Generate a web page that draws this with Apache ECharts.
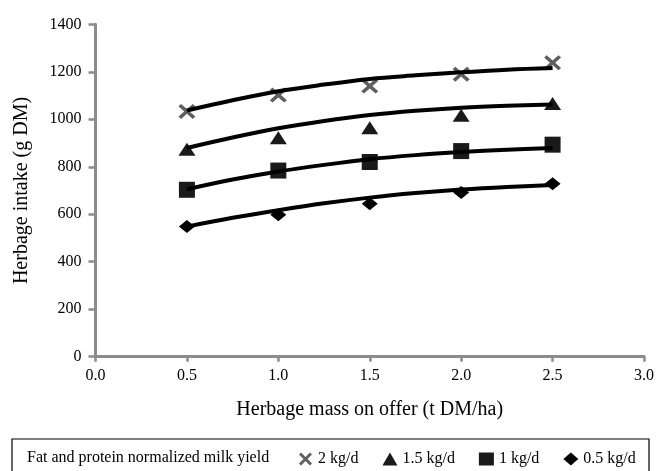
<!DOCTYPE html>
<html>
<head>
<meta charset="utf-8">
<script src="https://cdn.jsdelivr.net/npm/echarts@6/dist/echarts.min.js"></script>
<style>
html,body{margin:0;padding:0;background:#fff;}
#chart{width:657px;height:471px;}
</style>
</head>
<body>
<div id="chart"></div>
<script>
// Observed data
const massOffer = [0.5, 1.0, 1.5, 2.0, 2.5];
const intake2 = [1033, 1102, 1140, 1190, 1238];
const intake15 = [874, 922, 964, 1017, 1066];
const intake1 = [703, 784, 820, 866, 893];
const intake05 = [548, 598, 644, 692, 728];
// Fitted curves
const fitMass = [0.5, 0.75, 1.0, 1.25, 1.5, 1.75, 2.0, 2.25, 2.5];
const fit2 = [1037, 1080, 1118, 1146, 1170, 1185, 1198, 1209, 1216];
const fit15 = [879, 923, 962, 993, 1018, 1036, 1049, 1057, 1062];
const fit1 = [705, 746, 780, 808, 832, 849, 862, 872, 879];
const fit05 = [548, 585, 617, 646, 670, 689, 704, 715, 723];
const seriesNames = ['2 kg/d', '1.5 kg/d', '1 kg/d', '0.5 kg/d'];
const legendTitle = 'Fat and protein normalized milk yield';
const xTitle = 'Herbage mass on offer (t DM/ha)';
const yTitle = 'Herbage intake (g DM)';

const FONT = "'Liberation Serif', 'Times New Roman', serif";
const crossPath = 'path://M0,2.5 L2.5,0 L8,5.5 L13.5,0 L16,2.5 L10.5,8 L16,13.5 L13.5,16 L8,10.5 L2.5,16 L0,13.5 L5.5,8 Z';

function pairs(xs, ys) { return xs.map((x, i) => [x, ys[i]]); }

const obs = [intake2, intake15, intake1, intake05];
const fits = [fit2, fit15, fit1, fit05];
const symbols = [crossPath, 'triangle', 'rect', 'diamond'];
const sizes = [[17, 15], [17, 13], [16, 16], [16, 13]];
const colors = ['#5f5f5f', '#1a1a1a', '#1a1a1a', '#000000'];

const series = [];
fits.forEach((f) => {
  series.push({
    type: 'line',
    data: pairs(fitMass, f),
    smooth: 0.35,
    showSymbol: false,
    silent: true,
    z: 3,
    lineStyle: { color: '#000', width: 4 }
  });
});
obs.forEach((o, i) => {
  series.push({
    name: seriesNames[i],
    type: 'scatter',
    data: pairs(massOffer, o),
    symbol: symbols[i],
    symbolSize: sizes[i],
    z: 2,
    itemStyle: { color: colors[i], opacity: 1 }
  });
});

const chart = echarts.init(document.getElementById('chart'), null, { renderer: 'canvas' });
chart.setOption({
  animation: false,
  backgroundColor: '#fff',
  textStyle: { fontFamily: FONT },
  grid: { left: 95.5, right: 9.3, top: 24.3, bottom: 114.3, containLabel: false },
  xAxis: {
    type: 'value', min: 0, max: 3, interval: 0.5,
    name: xTitle, nameLocation: 'middle', nameGap: 43,
    nameTextStyle: { fontFamily: FONT, fontSize: 20, color: '#000' },
    axisLine: { show: true, onZero: false, lineStyle: { color: '#8c8c8c', width: 3 } },
    axisTick: { show: true, length: 5, lineStyle: { color: '#8c8c8c', width: 2.5 } },
    axisLabel: { fontFamily: FONT, fontSize: 16, color: '#000', margin: 11, formatter: v => v.toFixed(1) },
    splitLine: { show: false }
  },
  yAxis: {
    type: 'value', min: 0, max: 1400, interval: 200,
    name: yTitle, nameLocation: 'middle', nameGap: 64, nameRotate: 90,
    nameTextStyle: { fontFamily: FONT, fontSize: 20, color: '#000' },
    axisLine: { show: true, lineStyle: { color: '#8c8c8c', width: 3 } },
    axisTick: { show: true, length: 7, lineStyle: { color: '#8c8c8c', width: 2.5 } },
    axisLabel: { fontFamily: FONT, fontSize: 16, color: '#000', margin: 14, formatter: v => String(v) },
    splitLine: { show: false }
  },
  legend: {
    data: seriesNames,
    left: 299, top: 451, padding: 0,
    itemWidth: 15, itemHeight: 13, itemGap: 24,
    textStyle: { fontFamily: FONT, fontSize: 16, color: '#000' },
    selectedMode: false
  },
  graphic: [
    { type: 'rect', shape: { x: 12, y: 439, width: 637, height: 45 }, style: { fill: 'none', stroke: '#000', lineWidth: 1.2 }, silent: true },
    { type: 'text', left: 27, top: 450, style: { text: legendTitle, font: '16px ' + FONT, fill: '#000' }, silent: true }
  ],
  series: series
});
</script>
</body>
</html>
